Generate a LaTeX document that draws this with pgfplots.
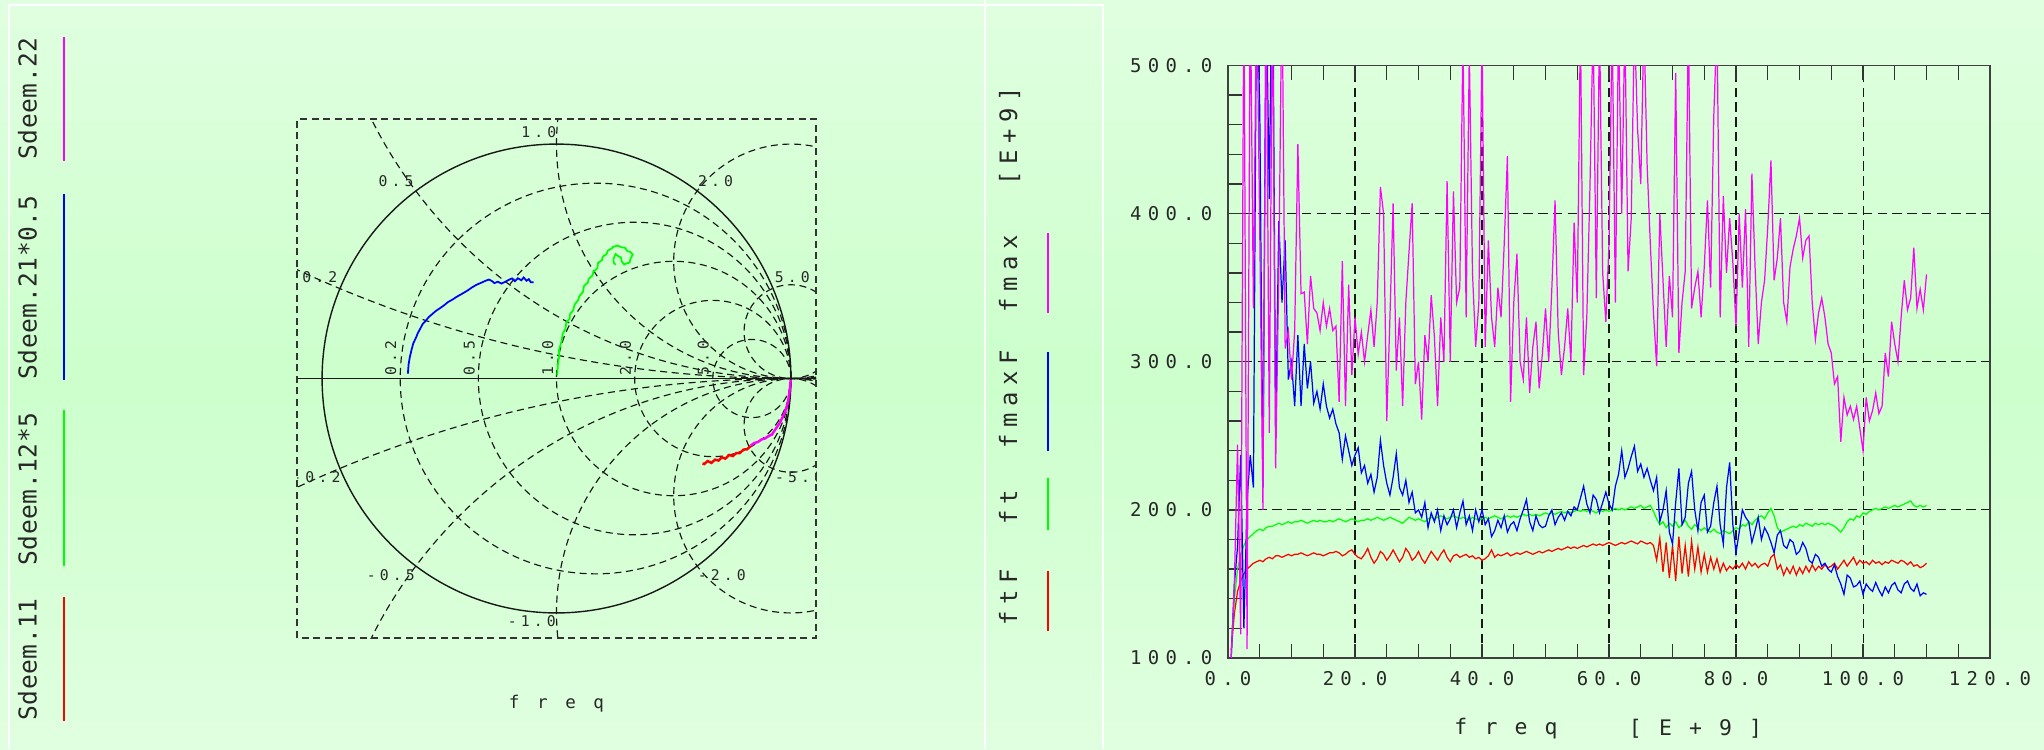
\documentclass[border=0pt]{standalone}
\usepackage{pgfplots}
\pgfplotsset{compat=1.18}
\usepackage{pgfplotstable}
\usepackage{fontspec}
\newfontfamily\tickf[LetterSpace=33]{DejaVu Sans Mono}
\newfontfamily\legLf[LetterSpace=2]{DejaVu Sans Mono}
\newfontfamily\legRf[LetterSpace=27]{DejaVu Sans Mono}
\newfontfamily\titRf[LetterSpace=80]{DejaVu Sans Mono}
\newfontfamily\titLf[LetterSpace=100]{DejaVu Sans Mono}
\newfontfamily\smf[LetterSpace=28]{DejaVu Sans Mono}
\newcommand\ticklab{\tickf\fontsize{5.4pt}{6pt}\selectfont}
\newcommand\legL{\legLf\fontsize{7.0pt}{8pt}\selectfont}
\newcommand\legR{\legRf\fontsize{6.8pt}{8pt}\selectfont}
\newcommand\titR{\titRf\fontsize{6.1pt}{7pt}\selectfont}
\newcommand\titL{\titLf\fontsize{5.0pt}{6pt}\selectfont}
\newcommand\sml{\smf\fontsize{4.2pt}{5pt}\selectfont}
\definecolor{bgA}{RGB}{224,255,224}
\definecolor{bgB}{RGB}{204,255,204}
\definecolor{txt}{RGB}{40,40,40}
\definecolor{cR}{RGB}{255,0,0}
\definecolor{cG}{RGB}{0,255,0}
\definecolor{cB}{RGB}{0,0,255}
\definecolor{cM}{RGB}{255,0,255}

\pgfplotstableread{
f r g b m
0.5 105 102 100 100
1.0 130 140 150 150
1.5 145 160 175 244
2.0 152 170 237 116
2.5 157 176 120 560
3.0 160 180 206 106
3.5 162 182 237 560
4.0 164 184 215 336
4.5 165 186 560 560
5.0 166 187 470 388
5.5 165 186 215 200
6.0 167 188 560 560
6.5 168 189 410 252
7.0 167 189 600 560
7.5 169 190 252 228
8.0 169 191 395 361
8.5 168 190 340 560
9.0 169 191 382 309
9.5 170 192 288 321
10.0 169 191 300 288
10.5 170 192 270 321
11.0 170 192 318 447
11.5 171 193 270 346
12.0 170 192 312 347
12.5 169 191 282 312
13.0 170 192 300 358
13.5 171 193 272 336
14.0 170 192 280 333
14.5 170 193 268 321
15.0 169 192 285 340
15.5 170 192 270 324
16.0 171 193 262 336
16.5 171 192 268 321
17.0 172 193 258 324
17.5 171 194 252 273
18.0 169 193 234 368
18.5 170 192 250 270
19.0 172 193 240 352
19.5 173 194 230 291
20.0 170 193 237 330
20.5 168 192 242 305
21.0 167 193 225 320
21.5 170 193 230 300
22.0 174 194 218 318
22.5 168 193 224 335
23.0 164 194 212 310
23.5 167 195 222 340
24.0 172 194 247 418
24.5 170 193 230 400
25.0 166 194 218 260
25.5 169 195 210 330
26.0 173 194 222 407
26.5 169 193 238 294
27.0 165 192 215 330
27.5 168 191 210 270
28.0 174 193 220 340
28.5 171 195 205 374
29.0 166 194 212 407
29.5 168 193 198 285
30.0 172 194 200 300
30.5 167 193 195 261
31.0 164 192 205 318
31.5 168 194 188 300
32.0 172 195 198 345
32.5 169 194 192 317
33.0 166 195 200 270
33.5 170 196 186 330
34.0 173 195 196 300
34.5 168 194 190 422
35.0 165 195 194 300
35.5 169 196 200 415
36.0 170 195 188 340
36.5 168 194 198 350
37.0 169 195 206 520
37.5 170 194 190 330
38.0 168 193 196 510
38.5 169 195 186 360
39.0 167 194 200 310
39.5 168 193 192 340
40.0 166 194 200 520
40.5 167 195 190 310
41.0 169 194 194 382
41.5 173 195 182 330
42.0 168 196 186 310
42.5 170 195 193 350
43.0 169 194 188 330
43.5 170 195 196 380
44.0 171 196 185 439
44.5 169 195 190 273
45.0 170 196 192 340
45.5 171 195 186 373
46.0 170 196 194 300
46.5 171 197 200 288
47.0 172 196 207 330
47.5 171 197 192 279
48.0 170 196 186 310
48.5 171 197 196 327
49.0 172 196 190 282
49.5 171 197 188 305
50.0 172 198 189 336
50.5 173 197 196 300
51.0 172 198 200 350
51.5 173 197 190 409
52.0 174 198 195 320
52.5 173 199 198 291
53.0 174 198 193 310
53.5 175 199 199 336
54.0 174 198 196 300
54.5 175 199 202 394
55.0 174 200 200 340
55.5 175 199 208 530
56.0 176 200 216 291
56.5 175 199 204 330
57.0 176 200 198 418
57.5 177 199 210 530
58.0 176 198 207 343
58.5 177 200 198 530
59.0 176 199 205 360
59.5 177 200 212 327
60.0 178 199 204 380
60.5 177 200 200 530
61.0 176 201 216 340
61.5 177 200 224 530
62.0 178 201 240 400
62.5 177 200 222 530
63.0 178 201 228 361
63.5 179 202 236 397
64.0 178 201 243 530
64.5 177 202 226 457
65.0 179 203 231 420
65.5 178 201 222 530
66.0 177 202 228 433
66.5 178 203 220 380
67.0 176 199 213 333
67.5 166 194 222 297
68.0 181 190 192 400
68.5 158 192 200 355
69.0 178 188 213 310
69.5 154 191 185 358
70.0 176 189 177 330
70.5 152 192 205 495
71.0 182 188 228 306
71.5 157 190 190 340
72.0 176 193 195 361
72.5 155 189 218 530
73.0 179 187 226 336
73.5 160 190 200 350
74.0 175 188 186 361
74.5 158 186 205 330
75.0 170 188 210 364
75.5 158 186 185 409
76.0 168 185 189 350
76.5 160 187 205 466
77.0 167 185 216 530
77.5 158 184 190 330
78.0 164 186 177 412
78.5 159 185 215 360
79.0 162 184 232 397
79.5 160 186 190 367
80.0 163 188 171 324
80.5 161 187 185 400
81.0 164 190 200 350
81.5 160 189 195 403
82.0 165 192 192 310
82.5 162 190 178 427
83.0 164 193 186 364
83.5 161 195 195 312
84.0 163 196 180 340
84.5 164 194 188 355
85.0 162 198 184 391
85.5 168 201 178 436
86.0 170 196 171 355
86.5 160 188 183 370
87.0 163 185 186 397
87.5 156 186 176 340
88.0 161 187 174 327
88.5 157 188 180 364
89.0 162 189 178 376
89.5 156 188 170 385
90.0 161 190 172 397
90.5 157 189 178 370
91.0 162 191 174 382
91.5 158 190 166 385
92.0 163 189 164 340
92.5 159 191 170 315
93.0 162 190 168 333
93.5 160 191 162 343
94.0 163 190 164 330
94.5 161 191 160 312
95.0 162 190 158 306
95.5 164 189 163 285
96.0 160 187 155 290
96.5 163 185 150 246
97.0 166 188 143 276
97.5 162 192 156 264
98.0 165 194 154 270
98.5 168 193 148 261
99.0 163 196 149 270
99.5 166 195 152 255
100.0 164 198 143 240
100.5 165 197 150 276
101.0 163 199 147 260
101.5 166 200 145 267
102.0 164 201 151 279
102.5 165 200 146 265
103.0 163 201 142 270
103.5 165 202 148 306
104.0 164 201 144 290
104.5 166 202 149 327
105.0 165 203 151 312
105.5 164 202 146 300
106.0 166 203 144 330
106.5 165 204 150 355
107.0 163 205 152 335
107.5 165 206 147 343
108.0 162 203 145 377
108.5 163 202 150 336
109.0 161 203 142 349
109.5 162 202 144 335
110.0 164 203 143 359
}\datatab

\begin{document}
\begin{tikzpicture}
\shade[top color=bgA, bottom color=bgA, middle color=bgB] (0,0) rectangle (20.44,7.49);
\useasboundingbox (0,0) rectangle (20.44,7.49);
% panel borders
\draw[white, line width=0.5pt] (0.09,0) -- (0.09,7.44) -- (11.03,7.44) -- (11.03,0);
\draw[white, line width=0.5pt] (9.85,0) -- (9.85,7.49);

% left legend
\node[rotate=90, anchor=base west, inner sep=0pt, text=txt] at (0.367,5.89) {\legL Sdeem.22};
\node[rotate=90, anchor=base west, inner sep=0pt, text=txt] at (0.367,3.69) {\legL Sdeem.21*0.5};
\node[rotate=90, anchor=base west, inner sep=0pt, text=txt] at (0.367,1.83) {\legL Sdeem.12*5};
\node[rotate=90, anchor=base west, inner sep=0pt, text=txt] at (0.367,0.28) {\legL Sdeem.11};
\draw[cM, line width=0.4pt] (0.64,5.88) -- (0.64,7.12);
\draw[cB, line width=0.4pt] (0.64,3.69) -- (0.64,5.555);
\draw[cG, line width=0.4pt] (0.64,1.83) -- (0.64,3.39);
\draw[cR, line width=0.4pt] (0.64,0.28) -- (0.64,1.52);

% right legend
\node[rotate=90, anchor=base west, inner sep=0pt, text=txt] at (10.17,1.23) {\legR ftF};
\node[rotate=90, anchor=base west, inner sep=0pt, text=txt] at (10.17,2.234) {\legR ft};
\node[rotate=90, anchor=base west, inner sep=0pt, text=txt] at (10.17,3.00) {\legR fmaxF};
\node[rotate=90, anchor=base west, inner sep=0pt, text=txt] at (10.17,4.36) {\legR fmax};
\node[rotate=90, anchor=base west, inner sep=0pt, text=txt] at (10.17,5.63) {\legR [E+9]};
\draw[cR, line width=0.4pt] (10.48,1.18) -- (10.48,1.78);
\draw[cG, line width=0.4pt] (10.48,2.19) -- (10.48,2.71);
\draw[cB, line width=0.4pt] (10.48,2.98) -- (10.48,3.97);
\draw[cM, line width=0.4pt] (10.48,4.36) -- (10.48,5.16);

% titles
\node[anchor=center, inner sep=0pt, text=txt] at (5.565,0.455) {\titL freq};
\node[anchor=center, inner sep=0pt, text=txt] at (15.06,0.20) {\titR freq};
\node[anchor=center, inner sep=0pt, text=txt] at (16.955,0.20) {\titR [E+9]};

% Smith chart grid
\begin{scope}[shift={(5.565,3.705)}, scale=2.3442]
  \begin{scope}
    \clip (-1.107,-1.107) rectangle (1.107,1.107);
    \tikzset{sg/.style={black!90, line width=0.33pt, dash pattern=on 2pt off 1.3pt}}
    \draw[sg] (0.16667,0) circle (0.83333);
    \draw[sg] (0.33333,0) circle (0.66667);
    \draw[sg] (0.5,0) circle (0.5);
    \draw[sg] (0.66667,0) circle (0.33333);
    \draw[sg] (0.83333,0) circle (0.16667);
    \draw[sg] (1,5) circle (5);
    \draw[sg] (1,-5) circle (5);
    \draw[sg] (1,2) circle (2);
    \draw[sg] (1,-2) circle (2);
    \draw[sg] (1,1) circle (1);
    \draw[sg] (1,-1) circle (1);
    \draw[sg] (1,0.5) circle (0.5);
    \draw[sg] (1,-0.5) circle (0.5);
    \draw[sg] (1,0.2) circle (0.2);
    \draw[sg] (1,-0.2) circle (0.2);
    \draw[black!90, line width=0.4pt] (0,0) circle (1);
    \draw[black!90, line width=0.4pt] (-1.107,0) -- (1.107,0);
    \tikzset{sl/.style={inner sep=0pt, text=txt, anchor=center}}
    \node[sl] at (-0.075,1.049) {\sml 1.0};
    \node[sl] at (-0.684,0.844) {\sml 0.5};
    \node[sl] at (0.679,0.844) {\sml 2.0};
    \node[sl] at (-1.010,0.432) {\sml 0.2};
    \node[sl] at (1.006,0.432) {\sml 5.0};
    \node[sl] at (-1.024,-0.420) {\sml -0.2};
    \node[sl] at (1.035,-0.420) {\sml -5.0};
    \node[sl] at (-0.707,-0.839) {\sml -0.5};
    \node[sl] at (0.705,-0.839) {\sml -2.0};
    \node[sl] at (-0.105,-1.037) {\sml -1.0};
    \node[sl, rotate=90] at (-0.707,0.087) {\sml 0.2};
    \node[sl, rotate=90] at (-0.372,0.087) {\sml 0.5};
    \node[sl, rotate=90] at (-0.037,0.087) {\sml 1.0};
    \node[sl, rotate=90] at (0.294,0.087) {\sml 2.0};
    \node[sl, rotate=90] at (0.626,0.087) {\sml 5.0};
  \end{scope}
  \draw[black!80, line width=0.4pt, dash pattern=on 2pt off 1.3pt] (-1.107,-1.107) rectangle (1.107,1.107);
\end{scope}

% Smith chart traces
\begin{axis}[at={(2.97cm,1.11cm)}, anchor=south west, scale only axis,
  width=5.19cm, height=5.19cm, xmin=-1.107, xmax=1.107, ymin=-1.107, ymax=1.107,
  hide axis]
\addplot[cB, line width=0.5pt] coordinates {
(-0.634,0.021) (-0.631,0.06) (-0.626,0.09) (-0.619,0.12) (-0.611,0.15) (-0.600,0.173)
(-0.591,0.195) (-0.580,0.215) (-0.570,0.234) (-0.558,0.246) (-0.545,0.262) (-0.530,0.275)
(-0.515,0.288) (-0.500,0.298) (-0.480,0.312) (-0.463,0.326) (-0.445,0.336) (-0.425,0.349)
(-0.402,0.362) (-0.380,0.375) (-0.360,0.389) (-0.341,0.400) (-0.320,0.409) (-0.300,0.418)
(-0.288,0.422) (-0.276,0.416) (-0.265,0.407) (-0.250,0.413) (-0.235,0.405) (-0.220,0.412)
(-0.205,0.420) (-0.190,0.427) (-0.178,0.415) (-0.165,0.428) (-0.150,0.419) (-0.140,0.431)
(-0.128,0.417) (-0.118,0.424) (-0.110,0.411) (-0.098,0.410)};
\addplot[cG, line width=0.5pt] coordinates {
(0.003,0.013) (0.006,0.06) (0.012,0.10) (0.010,0.12) (0.022,0.16) (0.026,0.19)
(0.038,0.212) (0.042,0.24) (0.056,0.255) (0.056,0.273) (0.071,0.29) (0.077,0.315)
(0.092,0.334) (0.097,0.35) (0.113,0.37) (0.117,0.394) (0.134,0.41) (0.137,0.425)
(0.154,0.44) (0.157,0.455) (0.174,0.47) (0.177,0.493) (0.194,0.505) (0.197,0.52)
(0.214,0.531) (0.218,0.545) (0.236,0.555) (0.240,0.561) (0.26,0.567) (0.28,0.559)
(0.292,0.558) (0.302,0.544) (0.315,0.540) (0.325,0.529) (0.316,0.512) (0.312,0.495)
(0.296,0.490) (0.289,0.486) (0.278,0.500) (0.275,0.516) (0.260,0.524) (0.252,0.531)
(0.243,0.51) (0.244,0.493) (0.252,0.485)};
\addplot[cM, line width=0.7pt] coordinates {
(0.999,-0.005) (0.996,-0.04) (0.992,-0.07) (0.988,-0.101) (0.980,-0.125) (0.973,-0.147)
(0.962,-0.170) (0.950,-0.193) (0.935,-0.215) (0.919,-0.239) (0.904,-0.246) (0.889,-0.256)
(0.874,-0.260) (0.859,-0.271) (0.844,-0.275) (0.828,-0.286)};
\addplot[cR, line width=0.7pt] coordinates {
(0.828,-0.288) (0.813,-0.302) (0.798,-0.303) (0.782,-0.318) (0.767,-0.318) (0.752,-0.331)
(0.737,-0.326) (0.720,-0.342) (0.705,-0.336) (0.691,-0.350) (0.676,-0.346) (0.661,-0.360)
(0.645,-0.352) (0.630,-0.365) (0.623,-0.362)};
\end{axis}

% Right chart
\begin{axis}[at={(12.28cm,0.91cm)}, anchor=south west, scale only axis,
  width=7.62cm, height=5.925cm,
  xmin=0, xmax=120, ymin=100, ymax=500,
  xtick={0,20,40,60,80,100,120}, ytick={100,200,300,400,500},
  xticklabels={0.0,20.0,40.0,60.0,80.0,100.0,120.0},
  yticklabels={100.0,200.0,300.0,400.0,500.0},
  minor x tick num=3, minor y tick num=4,
  ytick pos=left,
  major tick length=0.14cm, minor tick length=0.14cm,
  tick style={black!80, line width=0.4pt},
  axis line style={black!75, line width=0.5pt},
  grid=major,
  major grid style={black!90, line width=0.3pt, dash pattern=on 2.7pt off 1.5pt},
  xticklabel style={font=\ticklab, inner sep=0pt, anchor=center, yshift=-0.21cm, text=txt},
  yticklabel style={font=\ticklab, inner sep=0pt, anchor=east, xshift=-0.15cm, text=txt},
]
\addplot[cR, line width=0.35pt] table[x=f, y=r] {\datatab};
\addplot[cG, line width=0.35pt] table[x=f, y=g] {\datatab};
\addplot[cB, line width=0.35pt] table[x=f, y=b] {\datatab};
\addplot[cM, line width=0.35pt] table[x=f, y=m] {\datatab};
\end{axis}
\end{tikzpicture}
\end{document}
